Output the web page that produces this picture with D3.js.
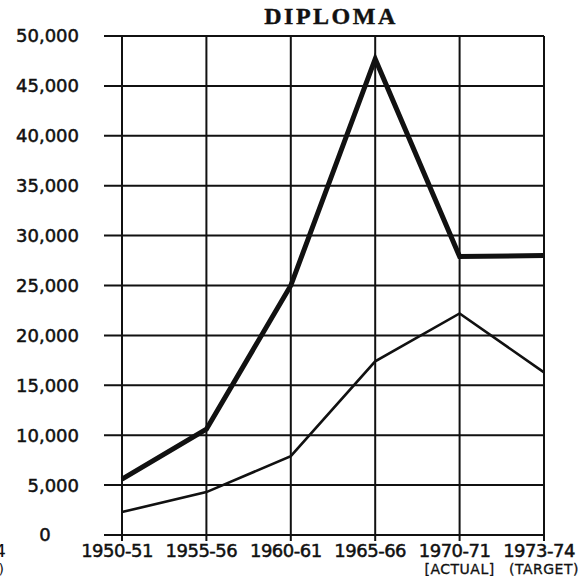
<!DOCTYPE html>
<html>
<head>
<meta charset="utf-8">
<script src="https://cdn.jsdelivr.net/npm/d3@7"></script>
<style>
  html, body { margin: 0; padding: 0; background: #fff; }
  svg { display: block; }
</style>
</head>
<body>
<script>
// chart data
const years = ['1950-51', '1955-56', '1960-61', '1965-66', '1970-71', '1973-74'];
const notes = ['', '', '', '', '[ACTUAL]', '(TARGET)'];
const intake = [5600, 10600, 25000, 47700, 27900, 28000];   // thick line
const outturn = [2300, 4300, 7900, 17400, 22200, 16300];    // thin line
const yTicks = [0, 5000, 10000, 15000, 20000, 25000, 30000, 35000, 40000, 45000, 50000];

const width = 578;
const height = 576;
const ink = '#111';
const font = '"DejaVu Sans", sans-serif';

const x = d3.scalePoint().domain(years).range([122, 544]);
const y = d3.scaleLinear().domain([0, 50000]).range([535, 36]);

const svg = d3.select('body')
  .append('svg')
  .attr('width', width)
  .attr('height', height);

// title
svg.append('text')
  .attr('x', 331)
  .attr('y', 24)
  .attr('text-anchor', 'middle')
  .style('font-family', '"Liberation Serif", serif')
  .style('font-weight', 'bold')
  .style('font-size', '24px')
  .style('letter-spacing', '2.5px')
  .style('fill', ink)
  .style('stroke', ink)
  .style('stroke-width', 0.4)
  .text('DIPLOMA');

// horizontal grid
svg.append('g')
  .selectAll('line')
  .data(yTicks)
  .enter()
  .append('line')
  .attr('x1', 104)
  .attr('x2', x.range()[1])
  .attr('y1', d => y(d))
  .attr('y2', d => y(d))
  .attr('stroke', ink)
  .attr('stroke-width', 2);

// vertical grid
svg.append('g')
  .selectAll('line')
  .data(years)
  .enter()
  .append('line')
  .attr('x1', d => x(d))
  .attr('x2', d => x(d))
  .attr('y1', y(50000))
  .attr('y2', y(0) + 6)
  .attr('stroke', ink)
  .attr('stroke-width', 2);

// y labels
svg.append('g')
  .selectAll('text')
  .data(yTicks)
  .enter()
  .append('text')
  .attr('x', d => d === 0 ? 45 : 79)
  .attr('y', d => y(d))
  .attr('dy', '0.36em')
  .attr('text-anchor', d => d === 0 ? 'middle' : 'end')
  .style('font-family', font)
  .style('font-size', '18px')
  .style('fill', ink)
  .style('stroke', ink)
  .style('stroke-width', 0.5)
  .text(d => d3.format(',')(d));

// x labels
const xl = svg.append('g');
xl.selectAll('text.yr')
  .data(years)
  .enter()
  .append('text')
  .attr('class', 'yr')
  .attr('x', d => x(d) - 5)
  .attr('y', 557)
  .attr('text-anchor', 'middle')
  .style('font-family', font)
  .style('font-size', '18px')
  .style('letter-spacing', '-0.5px')
  .style('fill', ink)
  .style('stroke', ink)
  .style('stroke-width', 0.5)
  .text(d => d);

xl.selectAll('text.note')
  .data(years)
  .enter()
  .append('text')
  .attr('class', 'note')
  .attr('x', d => x(d))
  .attr('y', 574)
  .attr('text-anchor', 'middle')
  .style('font-family', font)
  .style('font-size', '14px')
  .style('letter-spacing', '0.5px')
  .style('fill', ink)
  .style('stroke', ink)
  .style('stroke-width', 0.3)
  .text((d, i) => notes[i]);

// clipped labels of the neighbouring chart at the left edge
svg.append('text')
  .attr('x', 6).attr('y', 557)
  .attr('text-anchor', 'end')
  .style('font-family', font).style('font-size', '18px').style('fill', ink)
  .text(years[5]);
svg.append('text')
  .attr('x', 4).attr('y', 574)
  .attr('text-anchor', 'end')
  .style('font-family', font).style('font-size', '14px').style('fill', ink)
  .text(notes[5]);

// lines
const line = d3.line()
  .x((d, i) => x(years[i]))
  .y(d => y(d));

svg.append('path')
  .datum(outturn)
  .attr('d', line)
  .attr('fill', 'none')
  .attr('stroke', ink)
  .attr('stroke-width', 2.6)
  .attr('stroke-linejoin', 'miter');

svg.append('path')
  .datum(intake)
  .attr('d', line)
  .attr('fill', 'none')
  .attr('stroke', ink)
  .attr('stroke-width', 5)
  .attr('stroke-linejoin', 'miter');
</script>
</body>
</html>
